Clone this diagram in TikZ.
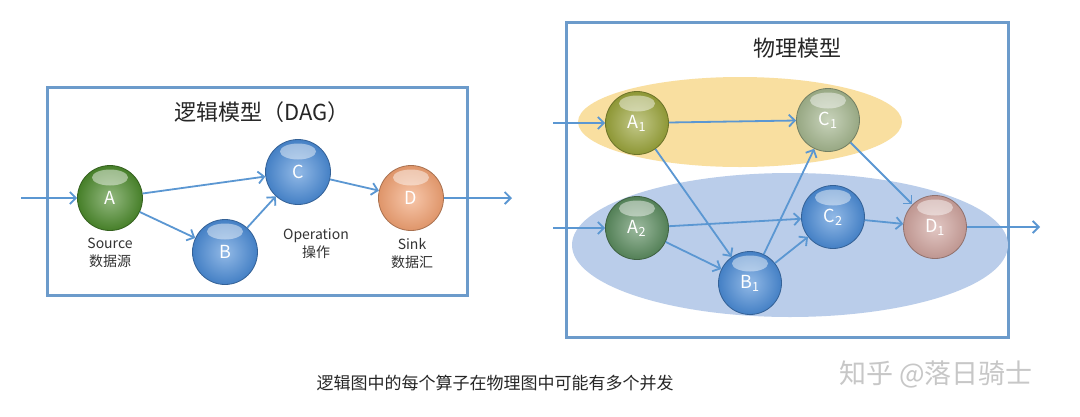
\documentclass[tikz,border=0pt]{standalone}
\usepackage{fontspec}
\setmainfont{Noto Sans CJK SC}
\usetikzlibrary{arrows.meta,shapes.geometric}
\definecolor{boxblue}{HTML}{6C9BCB}
\definecolor{arr}{HTML}{5B97D2}
\definecolor{gA}{HTML}{4C8A2C}
\definecolor{bB}{HTML}{4A8BD6}
\definecolor{oD}{HTML}{F2A273}
\definecolor{yA}{HTML}{9AA43A}
\definecolor{gC}{HTML}{A4B68E}
\definecolor{gAA}{HTML}{5A8B5E}
\definecolor{pD}{HTML}{CFA39D}
\definecolor{ellY}{HTML}{F9DFA0}
\definecolor{ellB}{HTML}{BACDEA}
\tikzset{
  ball/.style={circle, minimum size=65pt, inner sep=0pt, draw=#1!70!black, line width=0.8pt,
    inner color=#1!60!white, outer color=#1!92!black, text=white,
    font=\fontsize{18}{18}\selectfont,
    path picture={\fill[white,opacity=0.45] ([yshift=-12pt]path picture bounding box.north) ellipse (18pt and 8pt);}},
  conn/.style={draw=arr, line width=1.8pt, -{Straight Barb[length=6pt,width=12pt,line width=1.8pt]}},
  frame/.style={draw=boxblue, line width=3pt},
  title/.style={font=\fontsize{22}{22}\selectfont, text=black!85},
  lbl/.style={font=\fontsize{14}{18}\selectfont, align=center, text=black!80},
}
\begin{document}
\begin{tikzpicture}[x=1pt,y=-1pt]
\useasboundingbox (0,0) rectangle (1080,416);
\fill[white] (0,0) rectangle (1080,416);

% ---------- logical model ----------
\draw[frame] (47,87) rectangle (467,295);
\node[title] (tL) at (262,112) {逻辑模型（DAG）};

\node[ball=gA] (A) at (110,198) {A};
\node[ball=bB] (B) at (225,252) {B};
\node[ball=bB] (C) at (298,172) {C};
\node[ball=oD] (D) at (411,198) {D};

\node[lbl] (lA) at (110,253) {Source\\数据源};
\node[lbl] (lC) at (316,244) {Operation\\操作};
\node[lbl] (lD) at (412,254) {Sink\\数据汇};

\coordinate (inL) at (21,198);
\coordinate (outL) at (512,198);
\draw[conn] (inL) -- (A);
\draw[conn] (A) -- (C);
\draw[conn] (A) -- (B);
\draw[conn] (B) -- (C);
\draw[conn] (C) -- (D);
\draw[conn] (D) -- (outL);

% ---------- physical model ----------
\draw[frame] (566,22) rectangle (1008,337);
\node[title] (tR) at (797,48) {物理模型};

\fill[ellY] (740,122) ellipse (162 and 45);
\fill[ellB] (790,245) ellipse (218 and 72);

\node[ball=yA, minimum size=63pt] (A1) at (637,123) {A\textsubscript{1}};
\node[ball=gC, minimum size=63pt] (C1) at (828,120) {C\textsubscript{1}};
\node[ball=gAA, minimum size=63pt] (A2) at (637,228) {A\textsubscript{2}};
\node[ball=bB, minimum size=63pt] (C2) at (833,217) {C\textsubscript{2}};
\node[ball=pD, minimum size=63pt] (D1) at (935,227) {D\textsubscript{1}};
\node[ball=bB, minimum size=63pt] (B1) at (750,283) {B\textsubscript{1}};

\coordinate (in1) at (553,123);
\coordinate (in2) at (553,228);
\coordinate (outR) at (1040,227);
\draw[conn] (in1) -- (A1);
\draw[conn] (in2) -- (A2);
\draw[conn] (A1) -- (C1);
\draw[conn] (A1) -- (B1);
\draw[conn] (A2) -- (C2);
\draw[conn] (A2) -- (B1);
\draw[conn] (B1) -- (C1);
\draw[conn] (B1) -- (C2);
\draw[conn] (C1) -- (D1);
\draw[conn] (C2) -- (D1);
\draw[conn] (D1) -- (outR);

% ---------- captions ----------
\node[font=\fontsize{17}{17}\selectfont, text=black!85] (cap) at (495,383) {逻辑图中的每个算子在物理图中可能有多个并发};
\node[font=\fontsize{27}{27}\selectfont, text=black!22] (wm) at (936,374) {知乎 @落日骑士};
\end{tikzpicture}
\end{document}
